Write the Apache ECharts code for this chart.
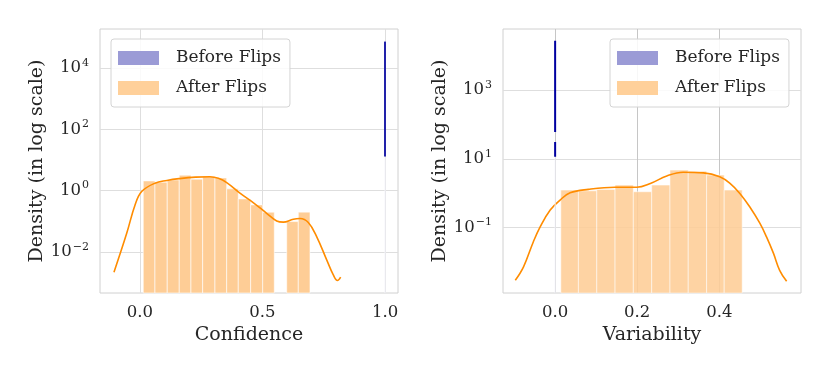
<!DOCTYPE html>
<html>
<head>
<meta charset="utf-8">
<title>Before / After Flips</title>
<script src="https://cdn.jsdelivr.net/npm/echarts@6/dist/echarts.min.js"></script>
<style>
  html, body { margin: 0; padding: 0; background: #fff; }
  #chart { width: 830px; height: 374px; }
</style>
</head>
<body>
<div id="chart"></div>
<script>
// ---- data ----
var legendNames = ['Before Flips', 'After Flips'];

// Confidence (left panel)
var confTicks = [0, 0.5, 1.0];
var confYTicks = [-2, 0, 2, 4];          // exponents of 10
var confEdges = [0.0135, 0.0612, 0.1114, 0.1604, 0.2082, 0.2559, 0.3061, 0.3539,
                 0.4012, 0.4518, 0.5008, 0.5482, 0.5988, 0.6461, 0.6939];
var confDensity = [2.07, 1.88, 2.23, 3.18, 2.36, 2.86, 2.59, 1.14, 0.536, 0.342, 0.198, 0, 0.0975, 0.198];
var confKde = [[-0.106, 0.00219], [-0.054, 0.0407], [-0.02, 0.339], [0.007, 0.933], [0.061, 1.74],
               [0.11, 2.14], [0.16, 2.45], [0.227, 2.75], [0.286, 2.82], [0.32, 2.51], [0.354, 1.82],
               [0.408, 0.822], [0.462, 0.407], [0.517, 0.182], [0.558, 0.102], [0.585, 0.0933],
               [0.626, 0.117], [0.653, 0.123], [0.687, 0.0912], [0.721, 0.0316], [0.762, 0.0055],
               [0.789, 0.00178], [0.806, 0.00117], [0.819, 0.00151]];
var confBefore = [[1.0, 12.9], [1.0, 72400]];

// Variability (right panel)
var varTicks = [0, 0.2, 0.4];
var varYTicks = [-1, 1, 3];
var varEdges = [0.0139, 0.0567, 0.1015, 0.146, 0.1905, 0.2353, 0.2798, 0.3243, 0.3691, 0.4119, 0.4557];
var varDensity = [1.23, 1.17, 1.29, 1.72, 1.10, 1.72, 4.68, 4.37, 3.36, 1.23];
var varKde = [[-0.097, 0.00295], [-0.077, 0.00724], [-0.053, 0.0389], [-0.0365, 0.105], [-0.012, 0.324],
              [0.012, 0.631], [0.0365, 1.03], [0.081, 1.29], [0.146, 1.48], [0.199, 1.48], [0.232, 1.91],
              [0.272, 3.16], [0.312, 4.07], [0.361, 3.89], [0.401, 3.00], [0.426, 1.93], [0.45, 0.986],
              [0.474, 0.403], [0.499, 0.132], [0.515, 0.0537], [0.532, 0.0178], [0.547, 0.00575], [0.564, 0.00275]];
var varBefore = [[0, 11.5], [0, 30.9], [0, null], [0, 60.3], [0, 26900]];

// ---- helpers ----
var FONT = 'DejaVu Serif';
var TEXT = '#262626';
var ORANGE = '#fecd96';
var lg = function (v) { return v == null ? null : Math.log10(v); };

function histData(edges, dens) {
    var out = [];
    for (var i = 0; i < dens.length; i++) {
        if (dens[i] > 0) out.push([edges[i], edges[i + 1], lg(dens[i])]);
    }
    return out;
}
function logPts(pts) {
    return pts.map(function (p) { return [p[0], lg(p[1])]; });
}
function supLabel(v) {
    var e = v < 0 ? '\u2212' + (-v) : '' + v;
    return '{b|10}{s|' + e + '}';
}
function makeRender(yMin, opacity) {
    return function (params, api) {
        var p0 = api.coord([api.value(0), yMin]);
        var p1 = api.coord([api.value(1), api.value(2)]);
        return {
            type: 'rect',
            shape: { x: p0[0], y: p1[1], width: p1[0] - p0[0], height: p0[1] - p1[1] },
            style: { fill: ORANGE, opacity: opacity, stroke: 'rgba(255,255,255,0.75)', lineWidth: 0.8 }
        };
    };
}

var yRange = [[-3.34, 5.27], [-2.90, 4.77]];

function xAxis(idx, min, max, ticks, name, gridColor) {
    return {
        type: 'value', gridIndex: idx, min: min, max: max,
        name: name, nameLocation: 'middle', nameGap: 32,
        nameTextStyle: { fontFamily: FONT, fontSize: 19, color: TEXT },
        axisLine: { show: false }, axisTick: { show: false, customValues: ticks },
        axisLabel: { customValues: ticks, margin: 11, fontFamily: FONT, fontSize: 16.5, color: TEXT,
                     formatter: function (v) { return v.toFixed(1); } },
        splitLine: { show: true, lineStyle: { color: gridColor, width: 1 } }
    };
}
function yAxis(idx, range, ticks) {
    return {
        type: 'value', gridIndex: idx, min: range[0], max: range[1],
        name: 'Density (in log scale)', nameLocation: 'middle', nameGap: 53,
        nameTextStyle: { fontFamily: FONT, fontSize: 19, color: TEXT },
        axisLine: { show: false }, axisTick: { show: false, customValues: ticks },
        axisLabel: {
            customValues: ticks, margin: 11, formatter: supLabel,
            rich: {
                b: { fontFamily: FONT, fontSize: 16.5, color: TEXT },
                s: { fontFamily: FONT, fontSize: 11, color: TEXT, padding: [0, 0, 10, 1] }
            }
        },
        splitLine: { show: true, lineStyle: { color: '#dedede', width: 1 } }
    };
}
function legend(left) {
    return {
        left: left, top: 39, orient: 'vertical', selectedMode: false,
        itemWidth: 41, itemHeight: 14, itemGap: 12,
        padding: [10, 9, 10, 7],
        borderColor: '#d4d4d4', borderWidth: 1, borderRadius: 3,
        backgroundColor: 'rgba(255,255,255,0.85)',
        textStyle: { fontFamily: FONT, fontSize: 17, color: TEXT, lineHeight: 18, padding: [0, 0, 0, 12] },
        data: [
            { name: legendNames[0], icon: 'rect', itemStyle: { color: '#9b9bd6', borderWidth: 0 } },
            { name: legendNames[1], icon: 'rect', itemStyle: { color: '#ffd09a', borderWidth: 0 } }
        ]
    };
}

var chart = echarts.init(document.getElementById('chart'), null, { renderer: 'canvas' });
chart.setOption({
    animation: false,
    backgroundColor: '#fff',
    grid: [
        { left: 100, top: 29, width: 298, height: 264, show: true, borderColor: '#d0d0d0', borderWidth: 1 },
        { left: 503, top: 29, width: 298, height: 264, show: true, borderColor: '#d0d0d0', borderWidth: 1 }
    ],
    legend: [legend(111), legend(610)],
    xAxis: [
        xAxis(0, -0.163, 1.053, confTicks, 'Confidence', '#dedede'),
        xAxis(1, -0.127, 0.599, varTicks, 'Variability', '#c6c6c6')
    ],
    yAxis: [yAxis(0, yRange[0], confYTicks), yAxis(1, yRange[1], varYTicks)],
    series: [
        { name: legendNames[1], type: 'custom', xAxisIndex: 0, yAxisIndex: 0,
          renderItem: makeRender(yRange[0][0], 1), encode: { x: [0, 1], y: 2 },
          itemStyle: { color: ORANGE }, data: histData(confEdges, confDensity), z: 2 },
        { name: legendNames[1], type: 'line', xAxisIndex: 0, yAxisIndex: 0, smooth: 0.4,
          showSymbol: false, lineStyle: { color: '#ff8c00', width: 1.6 }, itemStyle: { color: '#ff8c00' },
          data: logPts(confKde), z: 3 },
        { name: legendNames[0], type: 'line', xAxisIndex: 0, yAxisIndex: 0, showSymbol: false,
          lineStyle: { color: '#f4f4fb', width: 1 }, itemStyle: { color: '#f4f4fb' },
          data: [[1.0, yRange[0][0]], [1.0, lg(confBefore[0][1])]], z: 3 },
        { name: legendNames[0], type: 'line', xAxisIndex: 0, yAxisIndex: 0, showSymbol: false,
          lineStyle: { color: '#2222aa', width: 2 }, itemStyle: { color: '#2222aa' },
          data: logPts(confBefore), z: 4 },

        { name: legendNames[1], type: 'custom', xAxisIndex: 1, yAxisIndex: 1,
          renderItem: makeRender(yRange[1][0], 0.88), encode: { x: [0, 1], y: 2 },
          itemStyle: { color: ORANGE }, data: histData(varEdges, varDensity), z: 2 },
        { name: legendNames[1], type: 'line', xAxisIndex: 1, yAxisIndex: 1, smooth: 0.4,
          showSymbol: false, lineStyle: { color: '#ff8c00', width: 1.6 }, itemStyle: { color: '#ff8c00' },
          data: logPts(varKde), z: 3 },
        { name: legendNames[0], type: 'line', xAxisIndex: 1, yAxisIndex: 1, showSymbol: false,
          lineStyle: { color: '#f4f4fb', width: 1 }, itemStyle: { color: '#f4f4fb' },
          data: [[0, yRange[1][0]], [0, lg(varBefore[0][1])]], z: 3 },
        { name: legendNames[0], type: 'line', xAxisIndex: 1, yAxisIndex: 1, showSymbol: false,
          connectNulls: false, lineStyle: { color: '#0000a0', width: 2 }, itemStyle: { color: '#0000a0' },
          data: logPts(varBefore), z: 4 }
    ]
});
</script>
</body>
</html>
